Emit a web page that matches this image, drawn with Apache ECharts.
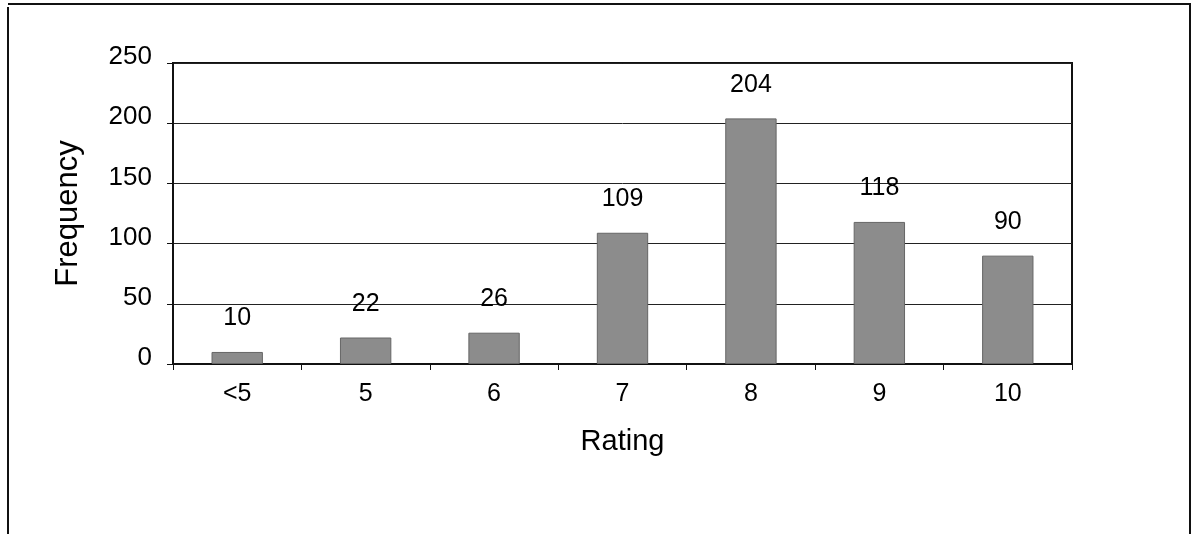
<!DOCTYPE html>
<html>
<head>
<meta charset="utf-8">
<script src="https://cdn.jsdelivr.net/npm/echarts@6/dist/echarts.min.js"></script>
<style>
html,body{margin:0;padding:0;background:#fff;}
#chart{width:1194px;height:534px;}
</style>
</head>
<body>
<div id="chart"></div>
<script>
const categories = ['<5', '5', '6', '7', '8', '9', '10'];
const frequency = [10, 22, 26, 109, 204, 118, 90];
const yMin = 0, yMax = 250, yInterval = 50;

const chart = echarts.init(document.getElementById('chart'));
const font = '"Liberation Sans", Arial, sans-serif';
chart.setOption({
  animation: false,
  backgroundColor: '#fff',
  textStyle: { fontFamily: font, color: '#000' },
  grid: { left: 173, right: 122, top: 63, bottom: 170, show: true, borderColor: '#111', borderWidth: 2, backgroundColor: 'transparent' },
  graphic: [
    { type: 'polyline', shape: { points: [[8, 534], [8, 7]] }, style: { stroke: '#111', lineWidth: 2, fill: null } },
    { type: 'polyline', shape: { points: [[8, 4], [1190, 4], [1190, 534]] }, style: { stroke: '#111', lineWidth: 2, fill: null } }
  ],
  xAxis: {
    type: 'category',
    data: categories,
    axisLine: { show: true, lineStyle: { color: '#111', width: 2 } },
    axisTick: { show: true, length: 6, lineStyle: { color: '#111' } },
    axisLabel: { color: '#000', fontSize: 25, fontFamily: font, margin: 18 },
    name: 'Rating',
    nameLocation: 'middle',
    nameGap: 63,
    nameTextStyle: { color: '#000', fontSize: 29, fontFamily: font }
  },
  yAxis: {
    type: 'value',
    min: yMin, max: yMax, interval: yInterval,
    axisLine: { show: true, lineStyle: { color: '#111', width: 2 } },
    axisTick: { show: true, length: 6, lineStyle: { color: '#111' } },
    axisLabel: { color: '#000', fontSize: 26, fontFamily: font, margin: 21, verticalAlign: 'bottom', lineHeight: 12 },
    splitLine: { show: true, lineStyle: { color: '#222', width: 1 } },
    name: 'Frequency',
    nameLocation: 'middle',
    nameGap: 89,
    nameRotate: 90,
    nameTextStyle: { color: '#000', fontSize: 31, fontFamily: font }
  },
  series: [{
    type: 'bar',
    data: frequency,
    barWidth: '40%',
    itemStyle: { color: '#8c8c8c', borderColor: '#666', borderWidth: 1 },
    label: { show: true, position: 'top', distance: 21, color: '#000', fontSize: 25, fontFamily: font }
  }]
});
</script>
</body>
</html>
